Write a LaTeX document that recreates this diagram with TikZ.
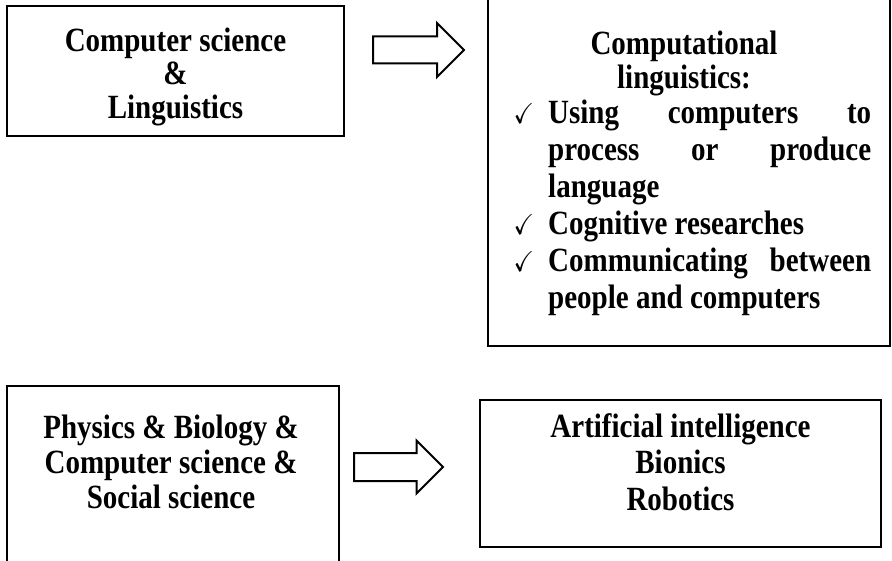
\documentclass[tikz,border=0pt]{standalone}
\usepackage{graphicx}
\usepackage{amssymb}
\usepackage{fontspec}
\setmainfont{Liberation Serif}
\usetikzlibrary{shapes.arrows}

\tikzset{
  boxframe/.style={draw, line width=2pt, inner sep=0pt},
  words/.style={inner sep=0pt, anchor=base, font=\fontsize{29pt}{28.2pt}\selectfont\bfseries},
  listwords/.style={words, font=\fontsize{29pt}{31.5pt}\selectfont\bfseries},
  bigarrow/.style={single arrow, draw, line width=2pt, inner sep=0pt, anchor=tail,
    text height=12.5pt, text depth=12.5pt, single arrow head extend=13.5pt,
    single arrow tip angle=90, single arrow head indent=0pt},
}
\newcommand{\tall}[1]{\scalebox{1}[1.17]{#1}}
\newcommand{\tick}{\leavevmode\llap{\scalebox{0.85}{$\checkmark$}\hspace{14pt}}}

\begin{document}
\begin{tikzpicture}[x=1pt, y=-1pt]
    \useasboundingbox (0,0) rectangle (892,561);
    \clip (0,0) rectangle (892,561);

    % frames
    \node[boxframe, minimum width=337pt, minimum height=130pt] (csling) at (175.5,71) {};
    \node[boxframe, minimum width=402pt, minimum height=358pt] (complings) at (689,167) {};
    \node[boxframe, minimum width=332pt, minimum height=199pt] (physbio) at (173,485.5) {};
    \node[boxframe, minimum width=401pt, minimum height=147pt] (aibot) at (680.5,473.5) {};

    % texts
    \node[words] (cslingtext) at (175.5,52)
      {\tall{\begin{tabular}[t]{@{}c@{}}Computer science\\ \&\\ Linguistics\end{tabular}}};
    \node[words] (complingstitle) at (684,55)
      {\tall{\begin{tabular}[t]{@{}c@{}}Computational\\ linguistics:\end{tabular}}};
    \node[listwords, anchor=base west] (complingslist) at (548,124)
      {\tall{\parbox[t]{323pt}{\hyphenpenalty=10000
        \tick Using computers to\linebreak process or produce\linebreak language\par
        \tick Cognitive researches\par
        \tick Communicating between\linebreak people and computers}}};
    \node[words, font=\fontsize{29pt}{30pt}\selectfont\bfseries] (physbiotext) at (171,438)
      {\tall{\begin{tabular}[t]{@{}c@{}}Physics \& Biology \&\\ Computer science \&\\ Social science\end{tabular}}};
    \node[listwords] (aibottext) at (680.5,437)
      {\tall{\begin{tabular}[t]{@{}c@{}}Artificial intelligence\\ Bionics\\ Robotics\end{tabular}}};

    % arrows
    \node[bigarrow, minimum height=91pt] (upperarrow) at (372,50) {};
    \node[bigarrow, minimum height=89pt, text height=13pt, text depth=13pt,
      single arrow head extend=12.5pt] (lowerarrow) at (353,467) {};
\end{tikzpicture}
\end{document}
